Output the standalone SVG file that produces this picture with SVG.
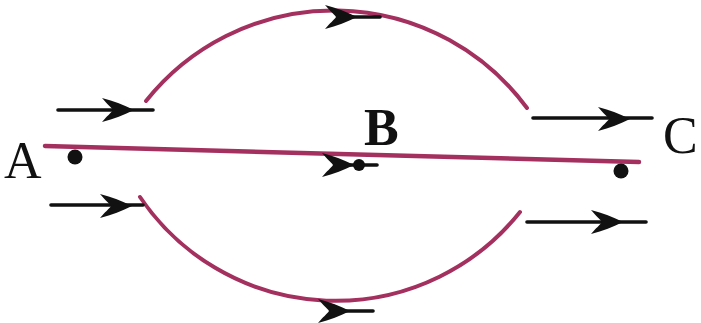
<svg xmlns="http://www.w3.org/2000/svg" width="701" height="323" viewBox="0 0 701 323">
<style>
.wire{fill:none;stroke:#a3305e;stroke-width:4;stroke-linecap:round}
.main{stroke-width:4.5}
.stem{fill:none;stroke:#111;stroke-width:3.6;stroke-linecap:round}
.lbl{font-family:"Liberation Serif",serif;font-size:52px;fill:#111}
.dot{fill:#111}
</style>
<defs>
<path id="head" d="M2,0 C-8,-5 -18,-9 -30,-12 C-25,-6 -21,-3 -19,0 C-21,3 -25,6 -30,12 C-18,9 -8,5 2,0 Z" fill="#111"/>
</defs>
<g id="connectors">
<path class="wire" d="M146,101 A240,240 0 0 1 527,108"/>
<path class="wire" d="M140,197 A236,236 0 0 0 520,212"/>
<path class="wire main" d="M45,146 L639,162"/>
<line class="stem" x1="58" y1="110" x2="153" y2="110"/>
<use href="#head" transform="translate(132,110)"/>
<line class="stem" x1="51" y1="205" x2="143" y2="205"/>
<use href="#head" transform="translate(130,206)"/>
<line class="stem" x1="533" y1="118" x2="652" y2="118"/>
<use href="#head" transform="translate(628,119)"/>
<line class="stem" x1="527" y1="222" x2="646" y2="222"/>
<use href="#head" transform="translate(621,222)"/>
<line class="stem" x1="345" y1="17" x2="380" y2="17"/>
<use href="#head" transform="translate(355,17)"/>
<line class="stem" x1="340" y1="311" x2="373" y2="311"/>
<use href="#head" transform="translate(348,311)"/>
<line class="stem" x1="345" y1="165" x2="377" y2="165"/>
<use href="#head" transform="translate(352,165)"/>
</g>
<g id="A"><circle class="dot" cx="75" cy="157" r="7.5"/><text class="lbl" x="4" y="178">A</text></g>
<g id="B"><circle class="dot" cx="359" cy="165" r="6"/><text class="lbl" x="364" y="145" font-weight="bold">B</text></g>
<g id="C"><circle class="dot" cx="621" cy="171" r="7.5"/><text class="lbl" x="663" y="153">C</text></g>
</svg>
